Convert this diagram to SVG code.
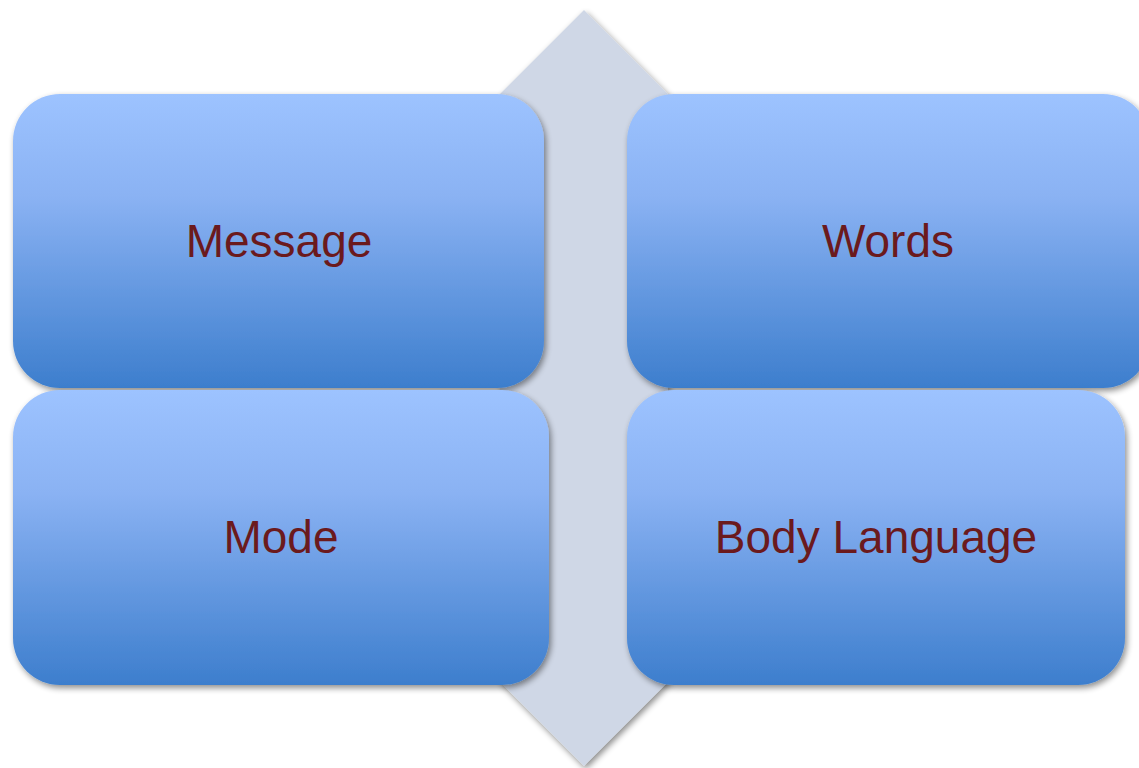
<svg xmlns="http://www.w3.org/2000/svg" width="1139" height="768" viewBox="0 0 1139 768">
  <defs>
    <linearGradient id="boxFill" x1="0" y1="0" x2="0" y2="1">
      <stop offset="0" stop-color="#9DC3FF"/>
      <stop offset="0.35" stop-color="#8AB2F3"/>
      <stop offset="1" stop-color="#3D7ECD"/>
    </linearGradient>
    <filter id="shadow" x="-10%" y="-10%" width="125%" height="125%">
      <feGaussianBlur in="SourceAlpha" stdDeviation="3"/>
      <feOffset dx="2" dy="3" result="blur"/>
      <feComponentTransfer><feFuncA type="linear" slope="0.45"/></feComponentTransfer>
      <feMerge><feMergeNode/><feMergeNode in="SourceGraphic"/></feMerge>
    </filter>
    <style>
      .box { fill: url(#boxFill); filter: url(#shadow); }
      .label { font-family: "Liberation Sans", Arial, sans-serif; font-size: 46px; fill: #6B1A1D; text-anchor: middle; }
    </style>
  </defs>
  <rect width="1139" height="768" fill="#FFFFFF"/>

  <!-- background double-pointed arrow -->
  <g id="spine">
    <polygon points="584,10 668,94 668,682 584,766 500,682 500,94" fill="#CFD7E6" filter="url(#shadow)"/>
  </g>

  <g id="message">
    <rect class="box" x="13" y="94" width="531" height="294" rx="47" ry="47"/>
    <text class="label" x="279" y="257">Message</text>
  </g>
  <g id="words">
    <rect class="box" x="627" y="94" width="523" height="294" rx="47" ry="47"/>
    <text class="label" x="888" y="257">Words</text>
  </g>
  <g id="mode">
    <rect class="box" x="13" y="390" width="536" height="295" rx="47" ry="47"/>
    <text class="label" x="281" y="553">Mode</text>
  </g>
  <g id="body-language">
    <rect class="box" x="627" y="390" width="498" height="295" rx="47" ry="47"/>
    <text class="label" x="876" y="553">Body Language</text>
  </g>
</svg>
